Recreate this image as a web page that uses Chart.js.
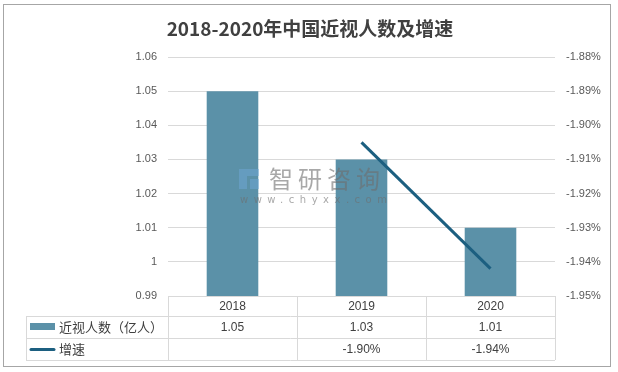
<!DOCTYPE html>
<html>
<head>
<meta charset="utf-8">
<script src="https://cdn.jsdelivr.net/npm/chart.js@4"></script>
<style>
  body { margin: 0; background: #fff; }
  #wrap { width: 618px; height: 372px; position: relative; }
</style>
</head>
<body>
<div id="wrap"><canvas id="myChart" width="618" height="372"></canvas></div>
<script>
const years = ['2018', '2019', '2020'];
const myopiaPeople = [1.05, 1.03, 1.01];          // 近视人数（亿人）
const growthRate = [null, -1.905, -1.942];        // 增速 (%)
const peopleLabels = ['1.05', '1.03', '1.01'];
const growthLabels = ['', '-1.90%', '-1.94%'];

const title = '2018-2020年中国近视人数及增速';
const barColor = '#5b91a8';
const lineColor = '#1c5f80';
const gridColor = '#d9d9d9';
const textColor = '#404040';

// tabla de datos bajo el gráfico + título + marco + marca de agua
const extras = {
    id: 'extras',
    beforeDraw(chart) {
        const c = chart.ctx;
        c.save();
        c.fillStyle = '#fff';
        c.fillRect(0, 0, chart.width, chart.height);
        c.restore();
    },
    afterDraw(chart) {
        const c = chart.ctx;
        const area = chart.chartArea;
        const xs = chart.scales.x;
        const w = (area.right - area.left) / years.length;
        const rowTop = [area.bottom, area.bottom + 20, area.bottom + 42, area.bottom + 64];
        const tableLeft = 26;

        c.save();
        // marco
        c.strokeStyle = '#a6a6a6';
        c.lineWidth = 1;
        c.strokeRect(3.5, 4.5, 607, 362);

        // título
        c.fillStyle = textColor;
        c.font = 'bold 19px "Noto Sans CJK SC"';
        c.textAlign = 'center';
        c.textBaseline = 'middle';
        c.fillText(title, 310, 29);

        // líneas de la tabla
        c.strokeStyle = gridColor;
        c.beginPath();
        for (let i = 0; i <= years.length; i++) {
            const x = Math.round(area.left + i * w) + 0.5;
            c.moveTo(x, rowTop[0]);
            c.lineTo(x, rowTop[3]);
        }
        c.moveTo(tableLeft + 0.5, rowTop[1]);
        c.lineTo(tableLeft + 0.5, rowTop[3]);
        for (let r = 1; r < 4; r++) {
            const y = Math.round(rowTop[r]) + 0.5;
            c.moveTo(tableLeft, y);
            c.lineTo(area.right, y);
        }
        c.stroke();

        // textos
        c.fillStyle = textColor;
        c.font = '12px "Liberation Sans", "Noto Sans CJK SC"';
        c.textAlign = 'center';
        years.forEach((y, i) => {
            const cx = xs.getPixelForValue(i);
            c.fillText(y, cx, (rowTop[0] + rowTop[1]) / 2 + 1);
            c.fillText(peopleLabels[i], cx, (rowTop[1] + rowTop[2]) / 2 + 1);
            c.fillText(growthLabels[i], cx, (rowTop[2] + rowTop[3]) / 2 + 1);
        });

        // leyenda en la tabla
        c.fillStyle = barColor;
        c.fillRect(30, 323, 25, 7);
        c.strokeStyle = lineColor;
        c.lineWidth = 3;
        c.lineCap = 'round';
        c.beginPath();
        c.moveTo(31, 349.5);
        c.lineTo(54, 349.5);
        c.stroke();
        c.fillStyle = textColor;
        c.textAlign = 'left';
        c.font = '13px "Noto Sans CJK SC"';
        c.fillText('近视人数（亿人）', 59, (rowTop[1] + rowTop[2]) / 2);
        c.fillText('增速', 59, (rowTop[2] + rowTop[3]) / 2);

        // marca de agua
        c.globalAlpha = 0.5;
        c.fillStyle = '#6fa8d6';
        c.fillRect(239, 169, 8, 20);
        c.fillRect(247, 169, 12, 7);
        c.fillRect(250, 179, 9, 10);
        c.globalAlpha = 1;
        c.fillStyle = 'rgba(110,110,110,0.6)';
        c.font = '24px "Noto Sans CJK SC"';
        c.letterSpacing = '5px';
        c.fillText('智研咨询', 269, 179);
        c.font = '10px "DejaVu Sans"';
        c.letterSpacing = '5.5px';
        c.fillText('www.chyxx.com', 240, 200);
        c.restore();
    }
};

const ctx = document.getElementById('myChart').getContext('2d');
new Chart(ctx, {
    type: 'bar',
    data: {
        labels: years,
        datasets: [{
            type: 'line',
            label: '增速',
            data: growthRate,
            yAxisID: 'y1',
            borderColor: lineColor,
            borderWidth: 3,
            pointRadius: 0,
            fill: false,
            order: 0
        }, {
            label: '近视人数（亿人）',
            data: myopiaPeople,
            yAxisID: 'y',
            backgroundColor: barColor,
            categoryPercentage: 1,
            barPercentage: 0.4,
            order: 1
        }]
    },
    options: {
        responsive: false,
        animation: false,
        layout: { padding: { top: 57, bottom: 76, left: 0, right: 0 } },
        plugins: {
            legend: { display: false },
            tooltip: { enabled: false }
        },
        scales: {
            x: { display: false },
            y: {
                position: 'left',
                min: 0.99,
                max: 1.06,
                afterFit: s => { s.width = 168; },
                border: { display: false },
                grid: { color: gridColor, drawTicks: false },
                ticks: {
                    stepSize: 0.01,
                    padding: 11,
                    color: '#595959',
                    font: { family: 'Liberation Sans', size: 11 },
                    callback: v => String(Number(v.toFixed(2)))
                }
            },
            y1: {
                position: 'right',
                min: -1.95,
                max: -1.88,
                afterFit: s => { s.width = 63; },
                border: { display: false },
                grid: { display: false, drawTicks: false },
                ticks: {
                    stepSize: 0.01,
                    padding: 11,
                    color: '#595959',
                    font: { family: 'Liberation Sans', size: 11 },
                    callback: v => v.toFixed(2) + '%'
                }
            }
        }
    },
    plugins: [extras]
});
</script>
</body>
</html>
